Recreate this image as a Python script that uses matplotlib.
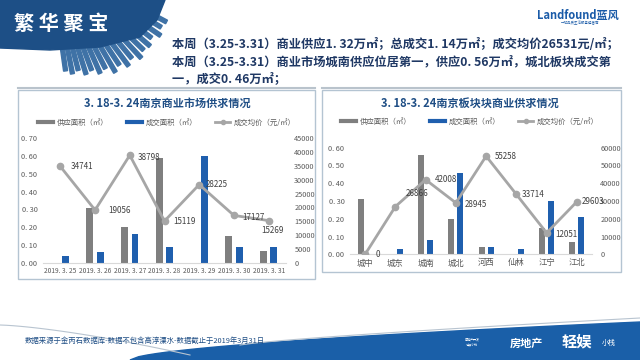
import numpy as np
import matplotlib
matplotlib.use('Agg')
import matplotlib.pyplot as plt
from matplotlib.patches import Polygon, Rectangle
from matplotlib.lines import Line2D

plt.rcParams['font.family'] = ['Noto Sans CJK SC', 'DejaVu Sans']

# data - weekly (left chart)
dates = ['2019. 3. 25', '2019. 3. 26', '2019. 3. 27', '2019. 3. 28',
         '2019. 3. 29', '2019. 3. 30', '2019. 3. 31']
supply_w = [0, 0.31, 0.20, 0.59, 0, 0.15, 0.07]
deal_w = [0.04, 0.06, 0.16, 0.09, 0.60, 0.09, 0.09]
price_w = [34741, 19056, 38798, 15119, 28225, 17127, 15269]

# data - districts (right chart)
areas = ['城中', '城东', '城南', '城北', '河西', '仙林', '江宁', '江北']
supply_a = [0.31, 0, 0.56, 0.20, 0.04, 0, 0.15, 0.07]
deal_a = [0, 0.03, 0.08, 0.46, 0.04, 0.03, 0.30, 0.21]
price_a = [0, 26866, 42008, 28945, 55258, 33714, 12051, 29603]

GRAY = '#7f7f7f'
BLUE = '#1f5fae'
LINE = '#a6a6a6'
NAVY = '#1f4e85'
TXT = '#595959'

fig = plt.figure(figsize=(6.4, 3.6), dpi=100)

# background layer in pixel coords
bg = fig.add_axes([0, 0, 1, 1], zorder=-5)
bg.set_xlim(0, 640)
bg.set_ylim(360, 0)
bg.axis('off')

# header blob
blob = [(0, 0), (165, 0), (157, 20), (140, 37), (100, 47), (50, 50), (0, 48)]
bg.add_patch(Polygon(blob, closed=True, color='#1d4f86', zorder=2))
# skyline spikes under the blob
cx, cy = 50, -40
angs = np.linspace(82, 28, 18)
lens = [112, 116, 114, 120, 118, 124, 122, 130, 126, 132, 128, 134, 130, 132, 128, 134, 130, 132]
for a, L in zip(angs, lens):
    r = np.radians(a)
    d = np.array([np.cos(r), np.sin(r)])
    n = np.array([-d[1], d[0]])
    p0 = np.array([cx, cy]) + d * 80
    p1 = np.array([cx, cy]) + d * L
    w = 2.0
    pts = [p0 + n * w, p1 + n * w, p1 - n * w, p0 - n * w]
    bg.add_patch(Polygon(pts, closed=True, color='#3f72a6', zorder=1))
bg.text(14, 24, '繁 华 聚 宝', color='white', fontsize=14.5, fontweight='bold',
        va='center', ha='left', zorder=3)

# logo top right
bg.text(578, 15, 'Landfound蓝风', color='#1a5ba8', fontsize=8, fontweight='bold',
        style='italic', ha='center', va='center')
bg.text(580, 23, '一站品质生活服务运营商', color='#1a5ba8', fontsize=2.5,
        ha='center', va='center')

# summary text
lines = ['本周（3.25-3.31）商业供应1. 32万㎡；总成交1. 14万㎡；成交均价26531元/㎡；',
         '本周（3.25-3.31）商业市场城南供应位居第一，供应0. 56万㎡，城北板块成交第',
         '一，成交0. 46万㎡；']
for i, s in enumerate(lines):
    bg.text(172, 45 + i * 17, s, color='#1f3864', fontsize=8.8, fontweight='bold',
            va='center', ha='left')

# panel boxes
bg.add_patch(Rectangle((18, 90), 297, 189, fill=False, ec='#b4c4d2', lw=1))
bg.add_patch(Rectangle((322, 90), 299, 182, fill=False, ec='#b4c4d2', lw=1))
bg.plot([18, 315], [88, 88], color='#b9c3cc', lw=1.5)
bg.plot([322, 621], [88, 88], color='#b9c3cc', lw=1.5)

# footer wave
xs = np.linspace(130, 640, 60)
ys = 360 - 38 * ((xs - 130) / 510) ** 0.6
bg.add_patch(Polygon(list(zip(xs, ys)) + [(640, 360)], closed=True,
                     color='#1a5fa8', zorder=1))
lx = np.linspace(0, 190, 30)
bg.plot(lx, 325 + 30 * (lx / 190) ** 1.4, color='#b8c4d0', lw=0.8)
lx2 = np.linspace(240, 640, 30)
bg.plot(lx2, 345 - 27 * ((lx2 - 240) / 400) ** 0.8, color='#b8c4d0', lw=0.8)
bg.text(25, 341, '数据来源于金丙石数据库-数据不包含高淳溧水-数据截止于2019年3月31日',
        color='#1f4e85', fontsize=5.3, va='center', ha='left')
bg.text(472, 342, '房地产开发\n轻娱小栈', color='white', fontsize=2.2,
        va='center', ha='center', zorder=3)
bg.text(526, 343, '房地产', color='white', fontsize=8, fontweight='bold',
        va='center', ha='center', zorder=3)
bg.text(577, 341, '轻娱', color='white', fontsize=11, fontweight='bold',
        va='center', ha='center', zorder=3)
bg.text(609, 343, '小栈', color='white', fontsize=5,
        va='center', ha='center', zorder=3)


def draw_panel(rect, cats, supply, deal, price, ymax, y2max, y2step,
               offs, title, tx, lg_y, lab_size):
    ax = fig.add_axes(rect)
    x = np.arange(len(cats))
    ax.bar(x - 0.15, supply, width=0.2, color=GRAY, zorder=2)
    ax.bar(x + 0.15, deal, width=0.2, color=BLUE, zorder=2)
    ax.set_xlim(-0.5, len(cats) - 0.5)
    ax.set_ylim(0, ymax)
    ax.set_yticks(np.arange(0, ymax + 0.001, 0.1))
    ax.set_yticklabels(['0. %02d' % round(v * 100) for v in np.arange(0, ymax + 0.001, 0.1)])
    ax.set_xticks(x)
    ax.set_xticklabels(cats)
    ax.tick_params(length=0, labelsize=lab_size, colors=TXT, pad=3)
    ax.tick_params(axis='y', labelsize=5.3, pad=4)
    for s in ['top', 'right', 'left']:
        ax.spines[s].set_visible(False)
    ax.spines['bottom'].set_color('#d9d9d9')
    ax.patch.set_alpha(0)

    ax2 = ax.twinx()
    ax2.plot(x, price, color=LINE, lw=2, marker='o', ms=4.5, zorder=3)
    ax2.set_ylim(0, y2max)
    ax2.set_yticks(np.arange(0, y2max + 1, y2step))
    ax2.tick_params(length=0, labelsize=5.3, colors=TXT, pad=6)
    for s in ax2.spines.values():
        s.set_visible(False)
    for xi, p, (dx, dy, ha) in zip(x, price, offs):
        ax2.annotate(str(p), (xi, p), xytext=(dx * 0.72, dy * 0.72),
                     textcoords='offset points', fontsize=5.8, color='#404040',
                     ha=ha, va='center')

    fig.text(tx / 640, 1 - 103 / 360, title, color=NAVY, fontsize=8,
             fontweight='bold', ha='center', va='center')
    handles = [Line2D([], [], color=GRAY, lw=3),
               Line2D([], [], color=BLUE, lw=3),
               Line2D([], [], color=LINE, lw=2, marker='o', ms=3)]
    names = ['供应面积（㎡）', '成交面积（㎡）', '成交均价（元/㎡）']
    fig.legend(handles, names, loc='center', ncol=3, frameon=False,
               bbox_to_anchor=(tx / 640, 1 - lg_y / 360), fontsize=5.3,
               handlelength=2.0, columnspacing=2.5, handletextpad=0.5,
               labelcolor=TXT)


offs_w = [(10, 0, 'left'), (13, 0, 'left'), (8, -2, 'left'), (9, 0, 'left'),
          (7, 0, 'left'), (8, -2, 'left'), (4, -10, 'center')]
draw_panel([43 / 640, 1 - 263 / 360, 243 / 640, 125 / 360], dates,
           supply_w, deal_w, price_w, 0.70, 45000, 5000, offs_w,
           '3. 18-3. 24南京商业市场供求情况', 167, 123, 4.8)

offs_a = [(10, 0, 'left'), (10, 13, 'left'), (9, 0, 'left'), (9, -2, 'left'),
          (9, 0, 'left'), (5, 0, 'left'), (9, -2, 'left'), (5, 0, 'left')]
draw_panel([350 / 640, 1 - 254.3 / 360, 242 / 640, 106.6 / 360], areas,
           supply_a, deal_a, price_a, 0.60, 60000, 10000, offs_a,
           '3. 18-3. 24南京板块块商业供求情况', 470, 122, 6)

fig.savefig('out.png', dpi=100)
